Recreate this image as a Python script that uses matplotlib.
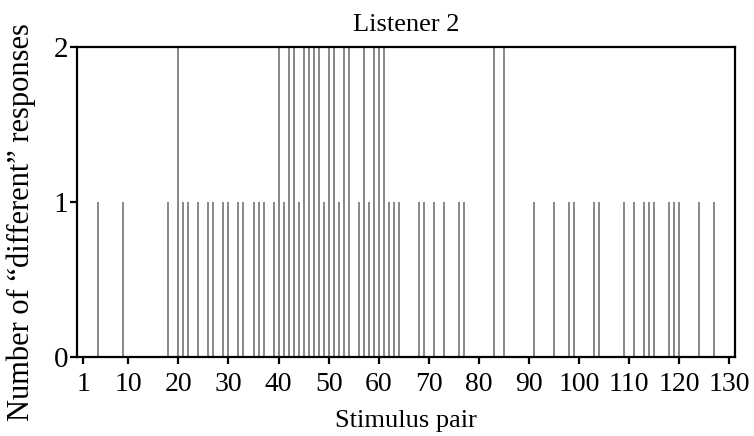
import matplotlib
matplotlib.use("Agg")
import matplotlib.pyplot as plt

# Stimulus pairs that drew one or two "different" responses from listener 2
pairs_one = [4, 9, 18, 21, 22, 24, 26, 27, 29, 30, 32, 33, 35, 36, 37, 39, 41,
             44, 49, 52, 56, 58, 62, 63, 64, 68, 69, 71, 73, 76, 77, 91, 95, 98,
             99, 103, 104, 109, 111, 113, 114, 115, 118, 119, 120, 124, 127]
pairs_two = [20, 40, 42, 43, 45, 46, 47, 48, 50, 51, 53, 54, 57, 59, 60, 61,
             83, 85]

pairs = sorted(pairs_one + pairs_two)
counts = [2 if p in pairs_two else 1 for p in pairs]

xticks = [1, 10, 20, 30, 40, 50, 60, 70, 80, 90, 100, 110, 120, 130]
yticks = [0, 1, 2]

plt.rcParams["font.family"] = ["Liberation Serif", "DejaVu Serif"]

fig = plt.figure(figsize=(7.54, 4.36), dpi=100)
ax = fig.add_axes([0.1017, 0.1812, 0.873, 0.71])

ax.bar(pairs, counts, width=0.4, color="#8a8a8a", linewidth=0, zorder=2)

ax.set_xlim(-0.3, 131.1)
ax.set_ylim(0, 2)
ax.set_xticks(xticks)
ax.set_yticks(yticks)

for side in ["left", "right", "top", "bottom"]:
    ax.spines[side].set_linewidth(1.6)
    ax.spines[side].set_color("black")
    ax.spines[side].set_zorder(3)

ax.tick_params(axis="x", direction="out", length=5, width=1.6, pad=6,
               labelsize=20)
ax.tick_params(axis="y", direction="out", length=5, width=1.6, pad=1,
               labelsize=21)

ax.set_title("Listener 2", fontsize=19, pad=12)
ax.set_xlabel("Stimulus pair", fontsize=19, labelpad=9)
ax.set_ylabel("Number of \u201cdifferent\u201d responses", fontsize=22)
ax.yaxis.set_label_coords(-0.062, 0.436)

fig.savefig("out.png", dpi=100)
